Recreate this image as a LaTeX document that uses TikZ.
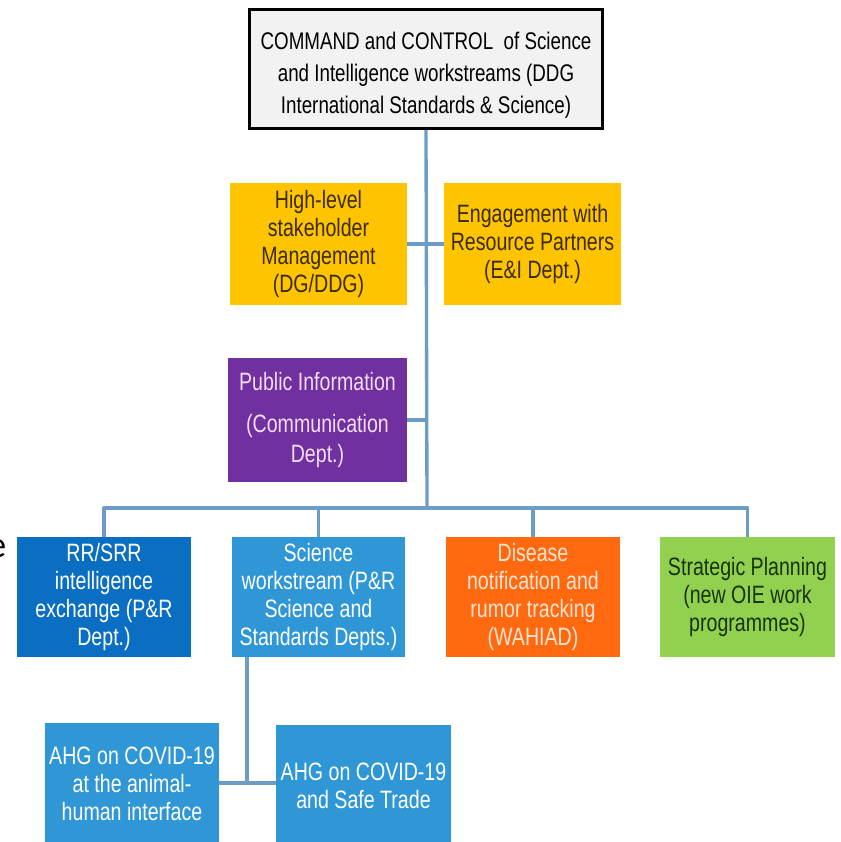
\documentclass[tikz,border=0pt]{standalone}
\usepackage{fontspec}
\setmainfont{Liberation Sans}[FakeStretch=0.78]
\newfontfamily\strayfont{Carlito}
\usetikzlibrary{positioning}

\definecolor{linkblue}{HTML}{6D9CC6}
\definecolor{topgray}{HTML}{F2F2F2}
\definecolor{yellowbox}{HTML}{FFC400}
\definecolor{yellowtext}{HTML}{3A2C00}
\definecolor{purplebox}{HTML}{7030A0}
\definecolor{purpletext}{HTML}{F4DCF4}
\definecolor{darkblue}{HTML}{0A6FC2}
\definecolor{lightblue}{HTML}{2F97D6}
\definecolor{orangebox}{HTML}{FF6A10}
\definecolor{orangetext}{HTML}{FFE4D2}
\definecolor{greenbox}{HTML}{92D050}
\definecolor{greentext}{HTML}{17330A}

\tikzset{
  unit/.style={rectangle, minimum width=3.48cm, minimum height=2.4cm,
    align=center, inner sep=0pt, font=\fontsize{14.3}{15.9}\selectfont},
  link/.style={draw=linkblue, line width=1.9pt, line join=round},
}

\begin{document}
\begin{tikzpicture}[x=0.02cm,y=-0.02cm]
    \useasboundingbox (0,0) rectangle (840,842);

    \node[unit, fill=topgray, draw=black, line width=1.9pt, minimum width=7.06cm,
      minimum height=2.38cm, font=\fontsize{13.7}{18.2}\selectfont] (top) at (426,69)
      {\vphantom{Iy}\\[-3.6mm]COMMAND and CONTROL\ \ of Science\\and Intelligence workstreams (DDG\\International Standards \& Science)};

    \node[unit, fill=yellowbox, text=yellowtext, minimum width=3.54cm, minimum height=2.44cm] (mgmt) at (318.5,244)
      {High-level\\stakeholder\\Management\\(DG/DDG)};
    \node[unit, fill=yellowbox, text=yellowtext, minimum width=3.54cm, minimum height=2.44cm] (partners) at (532.5,244)
      {Engagement with\\Resource Partners\\(E\&I Dept.)};
    \node[unit, fill=purplebox, text=purpletext, minimum width=3.58cm, minimum height=2.48cm,
      font=\fontsize{14.3}{17.3}\selectfont] (public) at (317.5,420)
      {Public Information\\[2.4mm](Communication\\Dept.)};

    \node[unit, fill=darkblue, text=white] (rrsrr) at (104,597)
      {RR/SRR\\intelligence\\exchange (P\&R\\Dept.)};
    \node[unit, fill=lightblue, text=white] (science) at (318.5,597)
      {Science\\workstream (P\&R\\Science and\\Standards Depts.)};
    \node[unit, fill=orangebox, text=orangetext] (disease) at (533,597)
      {Disease\\notification and\\rumor tracking\\(WAHIAD)};
    \node[unit, fill=greenbox, text=greentext, minimum width=3.5cm] (planning) at (747.5,597)
      {Strategic Planning\\(new OIE work\\programmes)};

    \node[unit, fill=lightblue, text=white, minimum height=2.44cm] (ahgone) at (132,784)
      {AHG on COVID-19\\at the animal-\\human interface};
    \node[unit, fill=lightblue, text=white, minimum width=3.5cm, minimum height=2.44cm] (ahgtwo) at (363.5,786)
      {AHG on COVID-19\\and Safe Trade};

    \node[font=\strayfont\fontsize{21}{21}\selectfont, inner sep=0pt] (stray) at (-3,549) {e};

    \coordinate (hub) at (427,508);
    \coordinate (split) at (247,783);

    \draw[link] (top.south) -- (hub);
    \draw[link] (mgmt.east) -- (partners.west);
    \draw[link] (public.east) -- (public.east -| hub);
    \draw[link] (rrsrr.north) |- (hub) -| (planning.north);
    \draw[link] (science.north) -- (science.north |- hub);
    \draw[link] (disease.north) -- (disease.north |- hub);
    \draw[link] (split |- science.south) -- (split);
    \draw[link] (ahgone.east |- split) -- (ahgtwo.west |- split);
\end{tikzpicture}
\end{document}
